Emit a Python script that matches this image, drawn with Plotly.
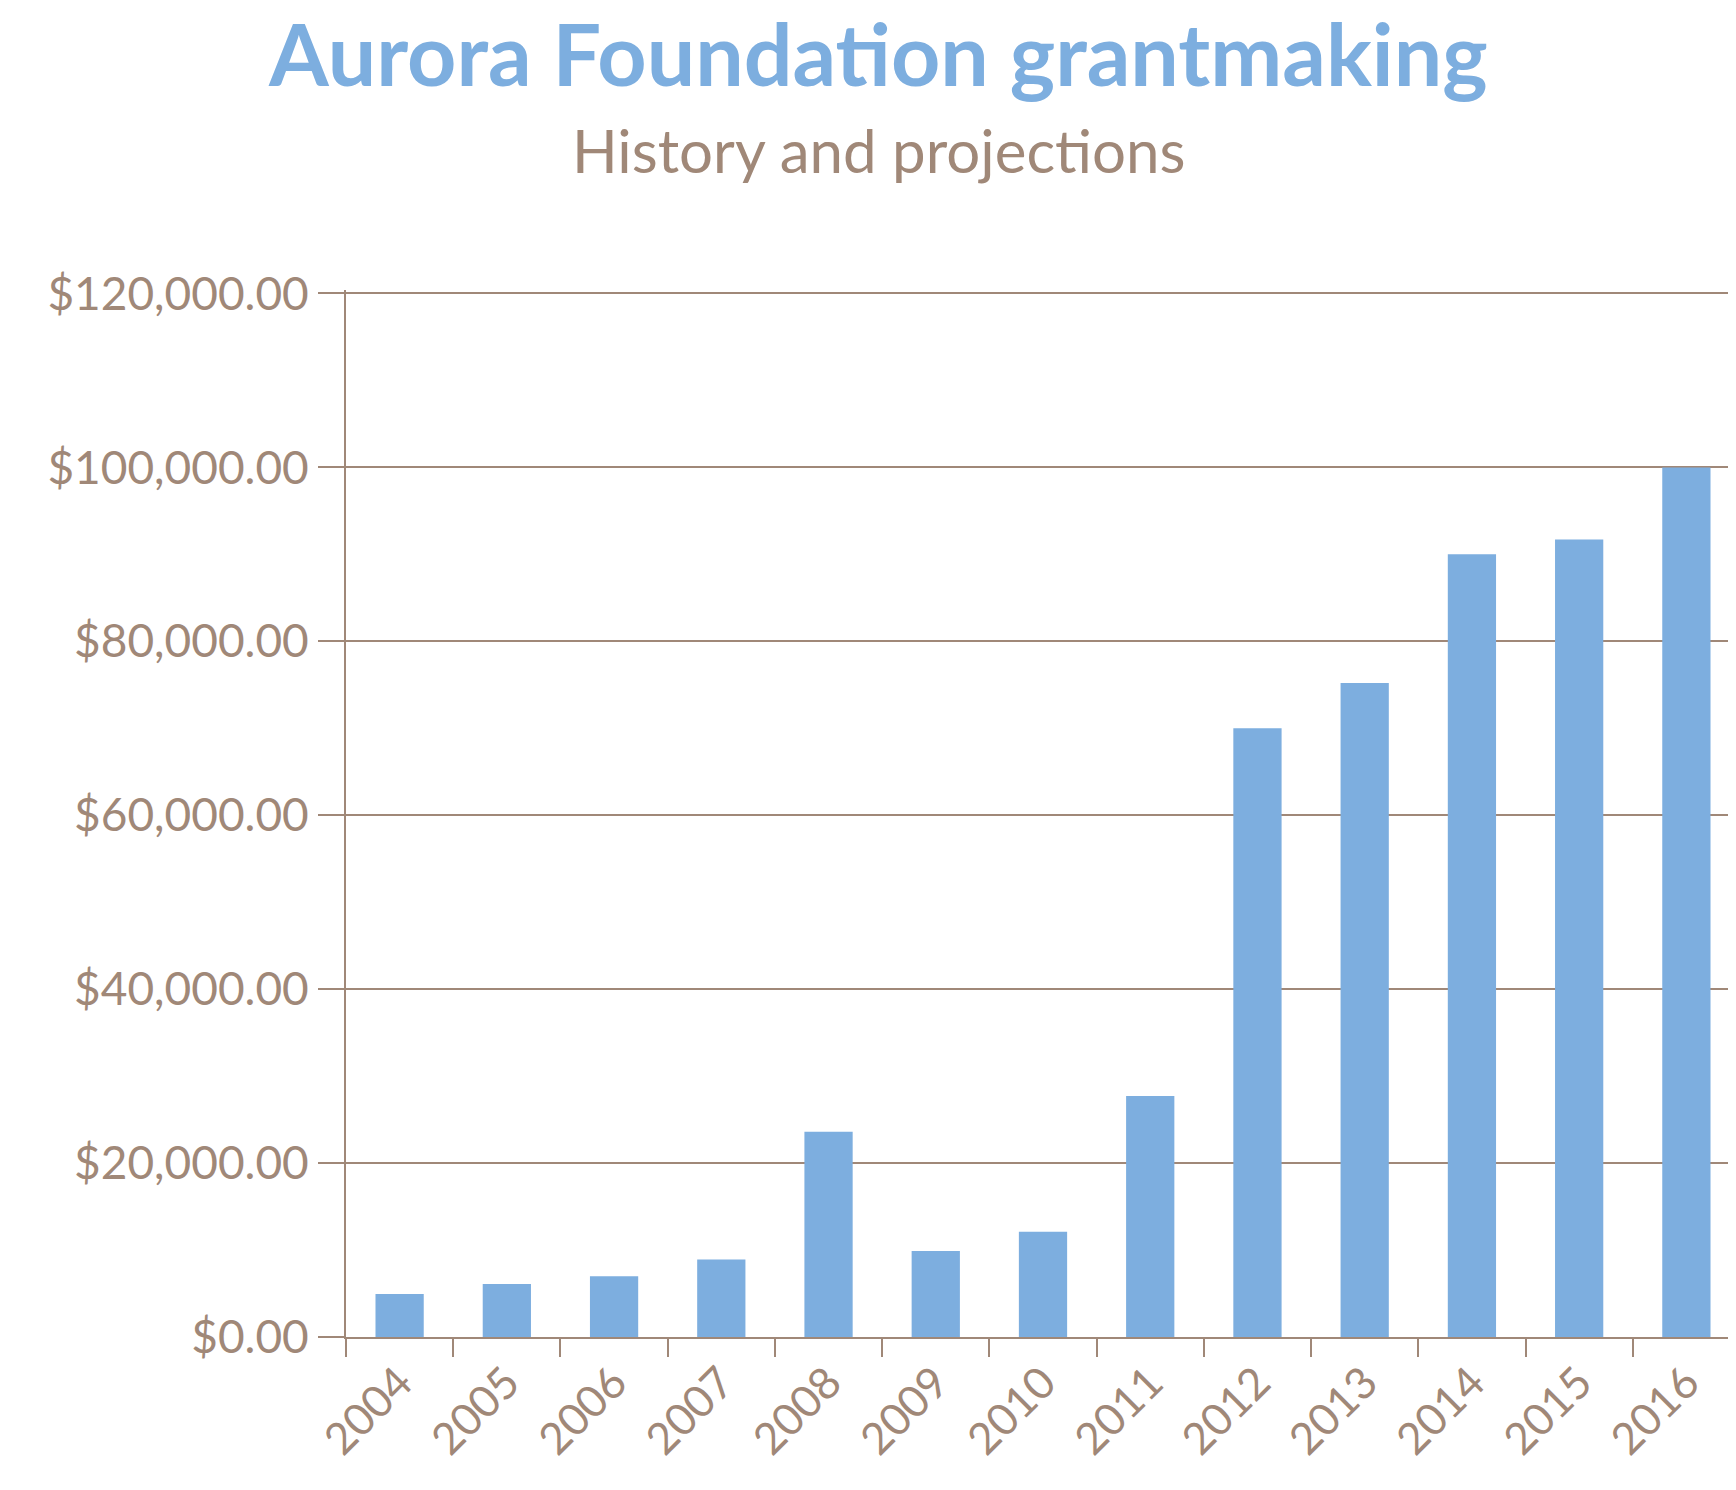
import plotly.graph_objects as go

years = ["2004", "2005", "2006", "2007", "2008", "2009", "2010",
         "2011", "2012", "2013", "2014", "2015", "2016"]
grants = [4950, 6100, 7000, 8900, 23600, 9900, 12100,
          27700, 70000, 75200, 90000, 91700, 100000]
y_ticks = [0, 20000, 40000, 60000, 80000, 100000, 120000]

BLUE = "#7DAEDF"
BROWN = "#A08878"
FONT = "Lato"

W, H = 1736, 1490
L, R, T, B = 338, 4, 282, 161
plot_w = W - L - R
plot_h = H - T - B


def px_x(px):
    return (px - L) / plot_w


def px_y(py):
    return 1 + (T - py) / plot_h


fig = go.Figure(go.Bar(x=years, y=grants, marker=dict(color=BLUE, line=dict(width=0)),
                       showlegend=False))

fig.add_annotation(text="<b>Aurora Foundation grantmaking</b>", x=px_x(870), y=px_y(44),
                   xref="paper", yref="paper", xanchor="center", yanchor="middle",
                   showarrow=False, font=dict(family=FONT, size=86, color=BLUE))
fig.add_annotation(text="History and projections", x=px_x(870), y=px_y(142),
                   xref="paper", yref="paper", xanchor="center", yanchor="middle",
                   showarrow=False, font=dict(family=FONT, size=60, color=BROWN))

fig.update_layout(
    width=W, height=H,
    margin=dict(l=L, r=R, t=T, b=B),
    plot_bgcolor="white", paper_bgcolor="white",
    bargap=0.55,
    font=dict(family=FONT, color=BROWN, size=46),
    xaxis=dict(tickangle=-45, tickson="boundaries", ticks="outside", ticklen=18,
               tickcolor=BROWN, tickwidth=2, showline=True, linecolor=BROWN,
               linewidth=2, showgrid=False, tickfont=dict(size=44, color=BROWN)),
    yaxis=dict(range=[0, 120400], tickvals=y_ticks, tickformat="$,.2f",
               ticks="outside", ticklen=26, tickcolor=BROWN, tickwidth=2,
               showline=True, linecolor=BROWN, linewidth=2,
               gridcolor=BROWN, gridwidth=2, zeroline=False,
               tickfont=dict(size=46, color=BROWN)),
)
fig.write_html("out.html")
